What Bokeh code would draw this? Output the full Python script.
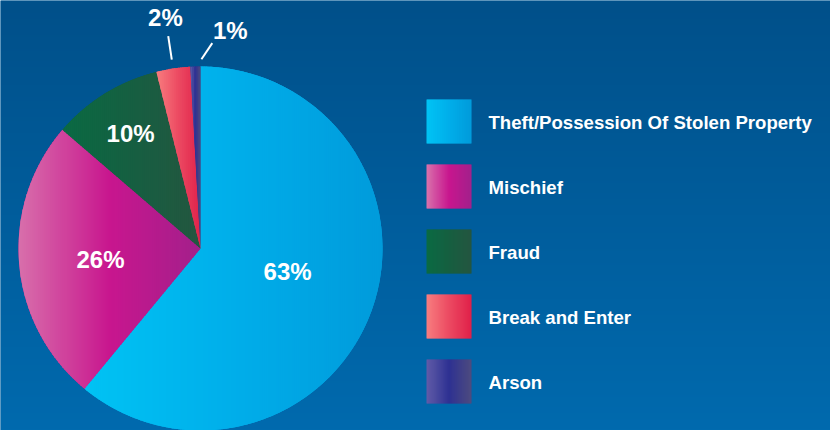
import numpy as np
from bokeh.plotting import figure
from bokeh.models import Range1d, ColumnDataSource
from bokeh.core.properties import value
from bokeh.embed import file_html
from bokeh.resources import INLINE

# ---------------- data ----------------
categories = ["Theft/Possession Of Stolen Property", "Mischief", "Fraud",
              "Break and Enter", "Arson"]
shares = [61.0, 25.3, 9.8, 3.0, 0.9]          # slice sizes
pct_labels = ["63%", "26%", "10%", "2%", "1%"]  # printed labels
gradients = [
    ["#00c3f4", "#00aeea", "#009bdb"],
    ["#d870ab", "#c8168e", "#a3208b"],
    ["#0a6a43", "#165f41", "#245640"],
    ["#f77d7f", "#ec4a62", "#e0214a"],
    ["#605ba7", "#2e3192", "#4d4b7f"],
]
bg_top, bg_bottom = "#00508a", "#006aae"

# ---------------- layout ----------------
W, H = 830, 430
OX, OY = 0, 0
PAGE_H = 430
CX, CY, R = 200, PAGE_H - 248, 182
label_r = [0.495, 0.553, 0.74, 1.284, 1.21]
label_turn = [-5.0, -1.5, 0.4, 0.0, 9.4]
leader = {3: (1.05, 1.18, 0.0, 0.0), 4: (1.04, 1.13, 1.9, 4.9)}
LEG_X0, LEG_SZ, LEG_TOP, LEG_STEP, LEG_TX = 426, 45, 99, 65, 488
FONT = "Liberation Sans"


def hex2rgb(h):
    h = h.lstrip("#")
    return np.array([int(h[i:i + 2], 16) for i in (0, 2, 4)], dtype=float)


def grad_color(stops, t):
    t = min(max(t, 0.0), 1.0)
    n = len(stops) - 1
    k = min(int(t * n), n - 1)
    f = t * n - k
    c = hex2rgb(stops[k]) * (1 - f) + hex2rgb(stops[k + 1]) * f
    return "#%02x%02x%02x" % tuple(int(round(v)) for v in c)


def clip_x(pts, x0, keep_greater):
    out = []
    n = len(pts)
    for i in range(n):
        cx, cy = pts[i]
        px, py = pts[i - 1]
        cin = cx >= x0 if keep_greater else cx <= x0
        pin = px >= x0 if keep_greater else px <= x0
        if cin != pin:
            t = (x0 - px) / (cx - px)
            out.append((x0, py + t * (cy - py)))
        if cin:
            out.append((cx, cy))
    return out


p = figure(width=W, height=H, output_backend="svg", toolbar_location=None,
           x_range=Range1d(OX, OX + W), y_range=Range1d(PAGE_H - OY - H, PAGE_H - OY),
           min_border=0)
p.axis.visible = False
p.grid.visible = False
p.outline_line_color = None
p.background_fill_color = "#005d9c"
p.border_fill_color = "#005d9c"

# background gradient
n = 215
img = np.empty((n, 1), dtype=np.uint32)
view = img.view(dtype=np.uint8).reshape((n, 1, 4))
top, bot = hex2rgb(bg_top), hex2rgb(bg_bottom)
for i in range(n):
    f = i / (n - 1)
    c = bot * (1 - f) + top * f
    view[i, 0, :3] = c.astype(np.uint8)
    view[i, 0, 3] = 255
p.image_rgba(image=[img], x=OX, y=PAGE_H - OY - H, dw=W, dh=H)

# slice geometry from shares (clockwise from 12 o'clock)
total = sum(shares)
cum = np.cumsum([0] + shares) / total * 360.0
b0s, b1s = cum[:-1], cum[1:]
mids = (b0s + b1s) / 2

src = ColumnDataSource(dict(
    start=[np.radians(90 - b) for b in b1s],
    end=[np.radians(90 - b) for b in b0s],
    color=[g[len(g) // 2] for g in gradients],
))
p.wedge(x=CX, y=CY, radius=R, start_angle="start", end_angle="end",
        fill_color="color", line_color=None, source=src)

xs, ys, cols = [], [], []
for b0, b1, stops in zip(b0s, b1s, gradients):
    steps = max(int((b1 - b0) / 0.4), 2)
    arc = np.radians(np.linspace(b0, b1, steps))
    poly = [(CX, CY)] + [(CX + R * np.sin(a), CY + R * np.cos(a)) for a in arc]
    xmin = min(q[0] for q in poly)
    xmax = max(q[0] for q in poly)
    sw = 2.0
    xa = xmin
    while xa < xmax:
        xb = min(xa + sw, xmax)
        piece = clip_x(poly, xa, True)
        piece = clip_x(piece, min(xb + 0.7, xmax), False) if piece else piece
        if len(piece) >= 3:
            xs.append([q[0] for q in piece])
            ys.append([q[1] for q in piece])
            cols.append(grad_color(stops, ((xa + xb) / 2 - xmin) / max(xmax - xmin, 1e-6)))
        xa = xb
p.patches(xs=xs, ys=ys, fill_color=cols, line_color=None)

# percentage labels
lx, ly = [], []
for i, m in enumerate(mids):
    b = np.radians(m + label_turn[i])
    lx.append(CX + label_r[i] * R * np.sin(b))
    ly.append(CY + label_r[i] * R * np.cos(b))
p.text(x=lx, y=ly, text=pct_labels, text_color="white", text_font=value(FONT),
       text_font_style="bold", text_font_size="24px", text_align="center",
       text_baseline="middle")

# leader lines
for i, (r0, r1, t0, t1) in leader.items():
    a0 = np.radians(mids[i] + t0)
    a1 = np.radians(mids[i] + t1)
    p.line(x=[CX + r0 * R * np.sin(a0), CX + r1 * R * np.sin(a1)],
           y=[CY + r0 * R * np.cos(a0), CY + r1 * R * np.cos(a1)],
           line_color="white", line_width=2)

# legend
ql, qr, qt, qb, qc = [], [], [], [], []
tx, ty = [], []
for i, stops in enumerate(gradients):
    top_ref = LEG_TOP + LEG_STEP * i
    y_top = PAGE_H - top_ref
    y_bot = y_top - (LEG_SZ - 1)
    for k in range(LEG_SZ):
        ql.append(LEG_X0 + k)
        qr.append(LEG_X0 + k + 1.6)
        qt.append(y_top)
        qb.append(y_bot)
        qc.append(grad_color(stops, k / (LEG_SZ - 1)))
    tx.append(LEG_TX)
    ty.append(PAGE_H - (top_ref + LEG_SZ / 2))
qr = [min(v, LEG_X0 + LEG_SZ) for v in qr]
p.quad(left=ql, right=qr, top=qt, bottom=qb, fill_color=qc, line_color=None)
p.text(x=tx, y=ty, text=categories, text_color="white", text_font=value(FONT),
       text_font_style="bold", text_font_size="18.6px", text_align="left",
       text_baseline="middle")

open("out.html", "w").write(file_html(p, INLINE))
